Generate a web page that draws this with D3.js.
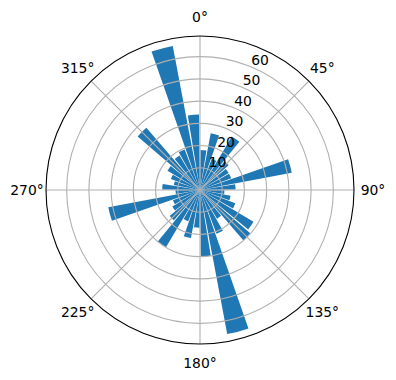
<!DOCTYPE html>
<html><head><meta charset="utf-8">
<script src="https://cdn.jsdelivr.net/npm/d3@7"></script>
<style>body{margin:0;background:#fff} svg{display:block}</style>
</head><body>
<script>
// Bar directions (degrees, clockwise from north) and bar lengths
const angles = [5,15,25,35,45,55,65,75,85,95,105,115,125,135,145,155,165,175,
                185,195,205,215,225,235,245,255,265,275,285,295,305,315,325,335,345,355];
const values = [18,26,15,28,17,15,15,42,16,11,14,17,28,30,15,21,66,30,
                17,22,15,30,18,14.5,13,42,11,17,12,14,17,37,18,19.5,66,34];
const rTicks = [10,20,30,40,50,60];
const thetaTicks = [0,45,90,135,180,225,270,315];
const thetaLabels = ["0°","45°","90°","135°","180°","225°","270°","315°"];

const W = 396, H = 380, cx = 200, cy = 190, R = 154;
const barWidthDeg = 8.6;
const rad = d => d * Math.PI / 180;

const svg = d3.select("body").append("svg").attr("width", W).attr("height", H);
const g = svg.append("g").attr("transform", `translate(${cx},${cy})`);

const rmax = d3.max(values) * 1.05;
const r = d3.scaleLinear().domain([0, rmax]).range([0, R]);

// bars
const arc = d3.arc().innerRadius(0)
  .outerRadius(d => r(d.v))
  .startAngle(d => rad(d.a - barWidthDeg / 2))
  .endAngle(d => rad(d.a + barWidthDeg / 2));
g.append("g").selectAll("path")
  .data(angles.map((a, i) => ({a, v: values[i]})))
  .join("path")
  .attr("d", arc)
  .attr("fill", "#1f77b4");

// grid
const grid = g.append("g").attr("fill", "none").attr("stroke", "#b0b0b0").attr("stroke-width", 1.1);
grid.selectAll("circle").data(rTicks).join("circle").attr("r", d => r(d));
grid.selectAll("line").data(thetaTicks).join("line")
  .attr("x1", 0).attr("y1", 0)
  .attr("x2", d => R * Math.sin(rad(d)))
  .attr("y2", d => -R * Math.cos(rad(d)));

// outer spine
g.append("circle").attr("r", R).attr("fill", "none").attr("stroke", "#000").attr("stroke-width", 1.1);

const font = "DejaVu Sans, sans-serif";
// theta labels
g.append("g").selectAll("text").data(thetaTicks).join("text")
  .attr("x", d => 173 * Math.sin(rad(d)))
  .attr("y", d => -173 * Math.cos(rad(d)))
  .attr("text-anchor", "middle")
  .attr("dominant-baseline", "central")
  .attr("font-family", font).attr("font-size", "13.9px").attr("fill", "#000")
  .text((d, i) => thetaLabels[i]);

// radial labels at 22.5°
const la = rad(22.5);
g.append("g").selectAll("text").data(rTicks).join("text")
  .attr("x", d => r(d) * Math.sin(la) + 9)
  .attr("y", d => -r(d) * Math.cos(la) - 7)
  .attr("text-anchor", "middle")
  .attr("dominant-baseline", "central")
  .attr("font-family", font).attr("font-size", "13.9px").attr("fill", "#000")
  .text(d => d);
</script>
</body></html>
